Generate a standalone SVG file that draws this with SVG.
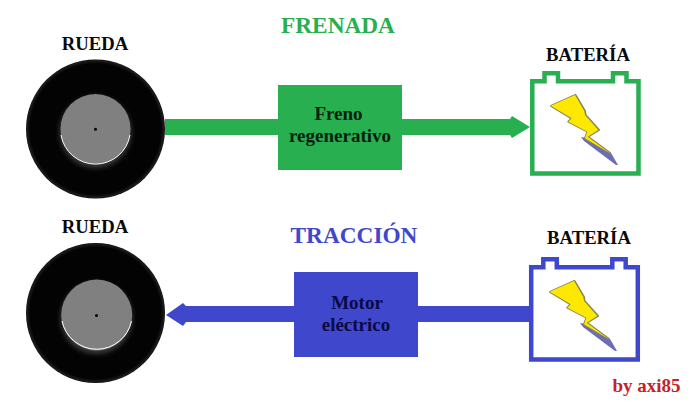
<svg xmlns="http://www.w3.org/2000/svg" width="694" height="406" viewBox="0 0 694 406">
<style>
text{font-family:"Liberation Serif","Times New Roman",serif;font-weight:bold;text-anchor:middle}
.lbl{font-size:18.700px;fill:#0a0a0a}
.box{font-size:19px}
.g{fill:#27af50}.b{fill:#3f48cc}
.gs{fill:none;stroke:#27af50;stroke-width:4.500}
.bs{fill:none;stroke:#3f48cc;stroke-width:4.500}
.tyre{fill:url(#tyre)}
.glow{fill:#3a3a3a;filter:url(#blur)}
.hub{fill:#808080}
.hubedge{fill:none;stroke:#fff;stroke-width:1}
.bolt{fill:#ffe800}
.boltol{fill:#8a8650;stroke:#8a8650;stroke-width:2;stroke-linejoin:round;filter:url(#soft)}
.boltsh{fill:#6c6cb8;filter:url(#soft)}
</style>
<defs>
<radialGradient id="tyre"><stop offset="0" stop-color="#030303"/><stop offset=".94" stop-color="#030303"/><stop offset=".985" stop-color="#1c1c1c"/><stop offset="1" stop-color="#0a0a0a"/></radialGradient>
<filter id="soft" x="-20%" y="-20%" width="140%" height="140%"><feGaussianBlur stdDeviation=".6"/></filter>
<filter id="blur" x="-30%" y="-30%" width="160%" height="160%"><feGaussianBlur stdDeviation="2.500"/></filter>
<polygon id="boltS" class="boltsh" points="30,32 36,33 60,48 67,60 65,60 33,36"/>
<polygon id="boltO" class="boltol" points="0,1 24.500,-10 34,6 34.500,10 48,25 37,31.700 59,48 34,33.300 36.500,26.700 17.300,16.700 20.700,13.300"/>
<polygon id="boltF" class="bolt" points="-.3,.7 24,-10 33.300,6 34,10 47.300,25 36.700,31.700 59,48.300 34,33.300 36.300,26.700 17.300,16.700 20.700,13.300"/>
</defs>
<text x="338" y="33.300" font-size="23.300" style="fill:#27af50">FRENADA</text>
<text x="354" y="243" font-size="23.300" style="fill:#3f48cc">TRACCIÓN</text>
<g id="connectors">
<path class="g" d="M165 119H279V135H165ZM401 119H510L512 116L530 127L512 138L510 135H401Z"/>
<path class="b" d="M529 306H417V322H186L183 326L166 315L183 303L186 306H295V322H529Z"/>
</g>
<g id="rueda-frenada">
<text class="lbl" x="95" y="50">RUEDA</text>
<circle class="tyre" cx="95.500" cy="129" r="69.500"/>
<circle class="glow" cx="95.500" cy="132" r="36"/>
<circle class="hub" cx="95.500" cy="129" r="35"/>
<path class="hubedge" d="M61 135A35 35 0 0 0 130 135"/>
<circle cx="95.500" cy="129.300" r="1.500"/>
</g>
<g id="freno">
<rect class="g" x="278" y="85" width="124" height="85"/>
<text class="box" x="338.500" y="120" fill="#08200f">Freno</text>
<text class="box" x="340" y="141.500" fill="#08200f">regenerativo</text>
</g>
<g id="bateria-frenada">
<text class="lbl" x="588" y="61">BATERÍA</text>
<path class="gs" d="M532.300 81.200H544.500V73.200H558V81.200H613V73.200H626.500V81.200H638.500V173.500H532.300Z"/>
<use href="#boltS" x="551" y="105"/>
<use href="#boltO" x="551" y="105"/>
<use href="#boltF" x="551" y="105"/>
</g>
<g id="rueda-traccion">
<text class="lbl" x="95" y="232.700">RUEDA</text>
<ellipse class="tyre" cx="95.500" cy="313" rx="69.500" ry="70"/>
<circle class="glow" cx="96.500" cy="318" r="36"/>
<circle class="hub" cx="96.700" cy="315" r="35.500"/>
<path class="hubedge" d="M62 321A35.500 35.500 0 0 0 131.500 321"/>
<circle cx="96.500" cy="315.500" r="1.500"/>
</g>
<g id="motor">
<rect class="b" x="294" y="272" width="124" height="85"/>
<text class="box" x="357" y="309" fill="#0a0a45">Motor</text>
<text class="box" x="356" y="331" fill="#0a0a45">eléctrico</text>
</g>
<g id="bateria-traccion">
<text class="lbl" x="589" y="244">BATERÍA</text>
<path class="bs" d="M531.200 267.200H543.300V259.200H556.800V267.200H612.300V259.200H625.700V267.200H637.800V359.500H531.200Z"/>
<use href="#boltS" x="550" y="291"/>
<use href="#boltO" x="550" y="291"/>
<use href="#boltF" x="550" y="291"/>
</g>
<text x="646.500" y="392" font-size="19" style="fill:#c8202a">by axi85</text>
</svg>
